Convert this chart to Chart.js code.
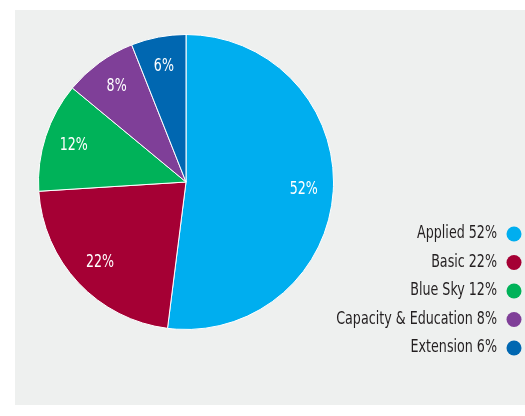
<!DOCTYPE html>
<html>
<head>
<meta charset="utf-8">
<script src="https://cdn.jsdelivr.net/npm/chart.js@4/dist/chart.umd.min.js"></script>
<style>
  html, body { margin: 0; padding: 0; background: #ffffff; }
  #wrap { position: relative; width: 525px; height: 416px; }
</style>
</head>
<body>
<div id="wrap"><canvas id="c" width="525" height="416"></canvas></div>
<script>
const categories = ['Applied', 'Basic', 'Blue Sky', 'Capacity & Education', 'Extension'];
const shares = [52, 22, 12, 8, 6];
const sliceColors = ['#00aeef', '#a50034', '#00b259', '#7f3f98', '#0067b1'];

const FACE = '"DejaVu Sans Condensed", "Liberation Sans Narrow", sans-serif';
const LEGEND_FONT = '17px ' + FACE;
const SLICE_FONT = '18px ' + FACE;

// draw text squeezed horizontally around its anchor point
function narrowText(ctx, text, x, y, squeeze) {
  ctx.save();
  ctx.translate(x, y);
  ctx.scale(squeeze, 1);
  ctx.fillText(text, 0, 0);
  ctx.restore();
}

// grey panel behind the chart
const panelPlugin = {
  id: 'panel',
  beforeDraw(chart) {
    const ctx = chart.ctx;
    ctx.save();
    ctx.fillStyle = '#eef0ef';
    ctx.fillRect(15, 10, chart.width - 15, 395);
    ctx.restore();
  }
};

// percentage labels inside each slice
const sliceLabels = {
  id: 'sliceLabels',
  afterDatasetsDraw(chart) {
    const ctx = chart.ctx;
    const meta = chart.getDatasetMeta(0);
    ctx.save();
    ctx.fillStyle = '#ffffff';
    ctx.font = SLICE_FONT;
    ctx.textAlign = 'center';
    ctx.textBaseline = 'middle';
    meta.data.forEach((arc, i) => {
      const p = arc.getProps(['x', 'y', 'startAngle', 'endAngle', 'outerRadius']);
      const mid = (p.startAngle + p.endAngle) / 2;
      const r = p.outerRadius * 0.8;
      narrowText(ctx, shares[i] + '%', p.x + Math.cos(mid) * r, p.y + Math.sin(mid) * r, 0.78);
    });
    ctx.restore();
  }
};

// right-aligned legend with the dot after the text
const sideLegend = {
  id: 'sideLegend',
  afterDraw(chart) {
    const ctx = chart.ctx;
    const textRight = 497, dotX = 514, top = 234, step = 28.5;
    ctx.save();
    ctx.font = LEGEND_FONT;
    ctx.textAlign = 'right';
    ctx.textBaseline = 'middle';
    categories.forEach((name, i) => {
      const y = top + i * step;
      ctx.fillStyle = '#231f20';
      narrowText(ctx, name + ' ' + shares[i] + '%', textRight, y, 0.83);
      ctx.beginPath();
      ctx.arc(dotX, y, 7.5, 0, Math.PI * 2);
      ctx.fillStyle = sliceColors[i];
      ctx.fill();
    });
    ctx.restore();
  }
};

new Chart(document.getElementById('c'), {
  type: 'pie',
  data: {
    labels: categories,
    datasets: [{
      data: shares,
      backgroundColor: sliceColors,
      borderColor: '#ffffff',
      borderWidth: 1
    }]
  },
  options: {
    responsive: false,
    animation: false,
    layout: { padding: { left: 38, top: 34, right: 191, bottom: 86 } },
    plugins: {
      legend: { display: false },
      tooltip: { enabled: false }
    }
  },
  plugins: [panelPlugin, sliceLabels, sideLegend]
});
</script>
</body>
</html>
